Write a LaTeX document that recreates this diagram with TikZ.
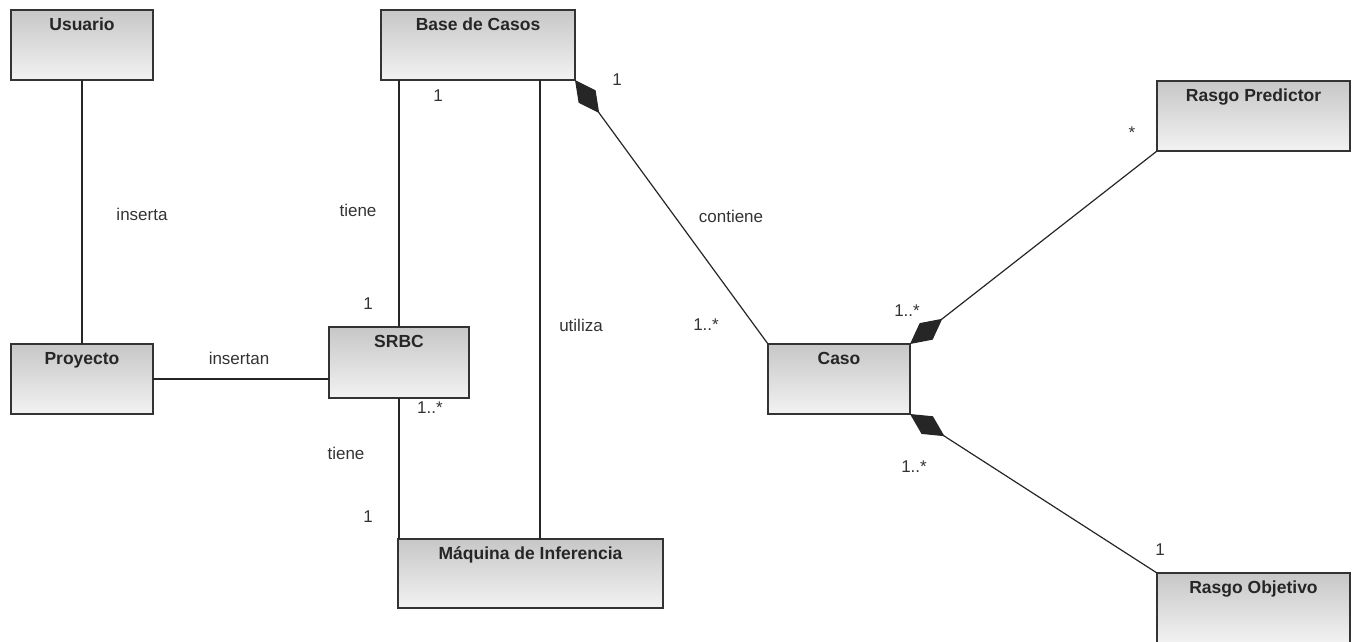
\documentclass[tikz,border=0pt]{standalone}
\usepackage{fontspec}
\setmainfont{Liberation Sans}
\usetikzlibrary{arrows.meta}
\tikzset{
  cls/.style={draw=black!80, line width=1.4pt, top color=black!22, bottom color=black!5,
    minimum width=#1, minimum height=70, anchor=north west, inner sep=0, outer sep=0},
  cls/.default=142,
  ttl/.style={anchor=base, inner sep=0, font=\fontsize{17.5}{20}\selectfont\bfseries, text=black!85},
  lbl/.style={inner sep=0, font=\fontsize{17}{20}\selectfont, text=black!80},
  conn/.style={draw=black!85, line width=1.2pt},
  comp/.style={conn, {Diamond[length=41,width=21]}-},
}
\begin{document}
\begin{tikzpicture}[x=1pt,y=-1pt]
\useasboundingbox (0,0) rectangle (1356,641);
% classes
\node[cls] (usr) at (11,10) {};
\node[cls=194] (base) at (381,10) {};
\node[cls=193] (pred) at (1157,81) {};
\node[cls] (proy) at (11,344) {};
\node[cls=140, minimum height=71] (srbc) at (329,327) {};
\node[cls] (caso) at (768,344) {};
\node[cls=265, minimum height=69] (maq) at (398,539) {};
\node[cls=193] (obj) at (1157,573) {};
% titles
\node[ttl] (tusr) at ([yshift=-20]usr.north) {Usuario};
\node[ttl] (tbase) at ([yshift=-20]base.north) {Base de Casos};
\node[ttl] (tpred) at ([yshift=-20]pred.north) {Rasgo Predictor};
\node[ttl] (tproy) at ([yshift=-20]proy.north) {Proyecto};
\node[ttl] (tsrbc) at ([yshift=-20]srbc.north) {SRBC};
\node[ttl] (tcaso) at ([yshift=-20]caso.north) {Caso};
\node[ttl] (tmaq) at ([yshift=-20]maq.north) {Máquina de Inferencia};
\node[ttl] (tobj) at ([yshift=-20]obj.north) {Rasgo Objetivo};
% connectors
\draw[conn] (usr.south) -- (proy.north);
\draw[conn] (proy.east) -- (proy.east -| srbc.west);
\draw[conn] (srbc.north) -- (srbc.north |- base.south);
\draw[conn] (srbc.south) -- (srbc.south |- maq.north);
\coordinate (bu) at ([xshift=62]base.south);
\draw[conn] (bu) -- (bu |- maq.north);
\draw[comp] (base.south east) -- (caso.north west);
\draw[comp] (caso.north east) -- (pred.south west);
\draw[comp] (caso.south east) -- (obj.north west);
% labels
\node[lbl] (l1) at (142,214) {inserta};
\node[lbl] (l2) at (239,358) {insertan};
\node[lbl] (l3) at (358,210) {tiene};
\node[lbl] (l4) at (438,96) {1};
\node[lbl] (l5) at (368,304) {1};
\node[lbl] (l6) at (581,325) {utiliza};
\node[lbl] (l7) at (430,408) {1..*};
\node[lbl] (l8) at (346,453) {tiene};
\node[lbl] (l9) at (368,517) {1};
\node[lbl] (l10) at (617,80) {1};
\node[lbl] (l11) at (731,216) {contiene};
\node[lbl] (l12) at (706,325) {1..*};
\node[lbl] (l13) at (907,311) {1..*};
\node[lbl] (l14) at (1132,133) {*};
\node[lbl] (l15) at (914,467) {1..*};
\node[lbl] (l16) at (1160,550) {1};
\end{tikzpicture}
\end{document}
